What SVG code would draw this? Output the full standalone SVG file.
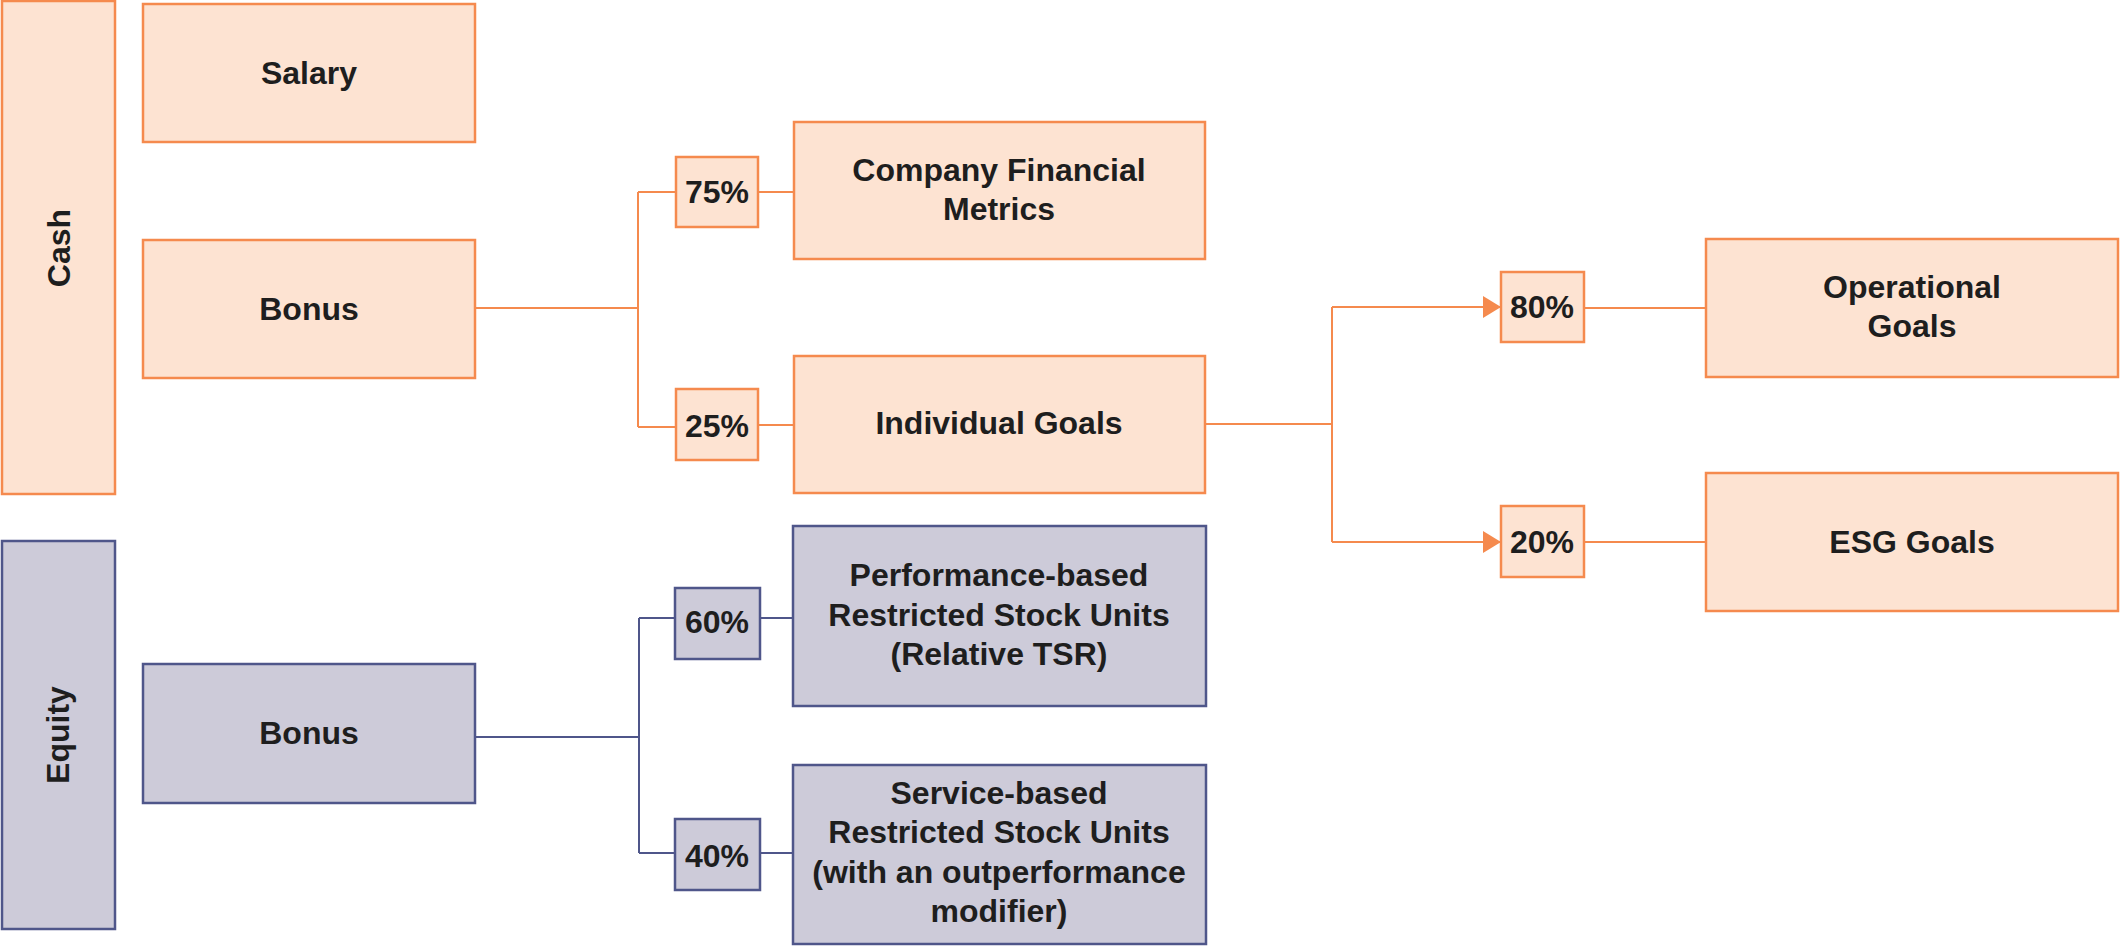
<svg xmlns="http://www.w3.org/2000/svg" width="2120" height="946" viewBox="0 0 2120 946">
<defs>
<style>
.o rect{fill:#FDE3D2;stroke:#F58A4E;stroke-width:2.5}
.p rect{fill:#CDCBD9;stroke:#4F568A;stroke-width:2.5}
text{font-family:"Liberation Sans",Arial,sans-serif;font-weight:bold;font-size:32px;fill:#1E1E1E;text-anchor:middle}
.co{fill:none;stroke:#F58A4E;stroke-width:2}
.cp{fill:none;stroke:#4F568A;stroke-width:2}
</style>
<marker id="arr" viewBox="0 0 18 22" refX="18" refY="11" markerWidth="18" markerHeight="22" markerUnits="userSpaceOnUse" orient="auto">
<path d="M0,0 L18,11 L0,22 Z" fill="#F58A4E"/>
</marker>
</defs>
<rect width="2120" height="946" fill="#FFFFFF"/>
<g id="connectors">
<path class="co" d="M475,308 H638 M638,192 V427 M638,192 H676 M638,427 H676"/>
<path class="co" d="M758,192 H794 M758,425 H794"/>
<path class="co" d="M1205,424 H1332 M1332,307 V542"/>
<path class="co" d="M1332,307 H1501" marker-end="url(#arr)"/>
<path class="co" d="M1332,542 H1501" marker-end="url(#arr)"/>
<path class="co" d="M1584,308 H1706 M1584,542 H1706"/>
<path class="cp" d="M475,737 H639 M639,618 V853 M639,618 H675 M639,853 H675"/>
<path class="cp" d="M760,618 H793 M760,853 H793"/>
</g>
<g id="cash" class="o"><rect x="2" y="1" width="113" height="493"/><text transform="translate(70,248) rotate(-90)">Cash</text></g>
<g id="salary" class="o"><rect x="143" y="4" width="332" height="138"/><text x="309" y="84">Salary</text></g>
<g id="bonus-cash" class="o"><rect x="143" y="240" width="332" height="138"/><text x="309" y="320">Bonus</text></g>
<g id="p75" class="o"><rect x="676" y="157" width="82" height="70"/><text x="717" y="203">75%</text></g>
<g id="p25" class="o"><rect x="676" y="389" width="82" height="71"/><text x="717" y="437">25%</text></g>
<g id="company" class="o"><rect x="794" y="122" width="411" height="137"/><text x="999" y="181">Company Financial</text><text x="999" y="220">Metrics</text></g>
<g id="individual" class="o"><rect x="794" y="356" width="411" height="137"/><text x="999" y="434">Individual Goals</text></g>
<g id="p80" class="o"><rect x="1501" y="272" width="83" height="70"/><text x="1542" y="318">80%</text></g>
<g id="p20" class="o"><rect x="1501" y="506" width="83" height="71"/><text x="1542" y="553">20%</text></g>
<g id="operational" class="o"><rect x="1706" y="239" width="412" height="138"/><text x="1912" y="298">Operational</text><text x="1912" y="337">Goals</text></g>
<g id="esg" class="o"><rect x="1706" y="473" width="412" height="138"/><text x="1912" y="553">ESG Goals</text></g>
<g id="equity" class="p"><rect x="2" y="541" width="113" height="388"/><text transform="translate(69,735) rotate(-90)">Equity</text></g>
<g id="bonus-equity" class="p"><rect x="143" y="664" width="332" height="139"/><text x="309" y="744">Bonus</text></g>
<g id="p60" class="p"><rect x="675" y="588" width="85" height="71"/><text x="717" y="633">60%</text></g>
<g id="p40" class="p"><rect x="675" y="819" width="85" height="71"/><text x="717" y="867">40%</text></g>
<g id="psu" class="p"><rect x="793" y="526" width="413" height="180"/><text x="999" y="586">Performance-based</text><text x="999" y="626">Restricted Stock Units</text><text x="999" y="665">(Relative TSR)</text></g>
<g id="sbu" class="p"><rect x="793" y="765" width="413" height="179"/><text x="999" y="804">Service-based</text><text x="999" y="843">Restricted Stock Units</text><text x="999" y="883">(with an outperformance</text><text x="999" y="922">modifier)</text></g>
</svg>
